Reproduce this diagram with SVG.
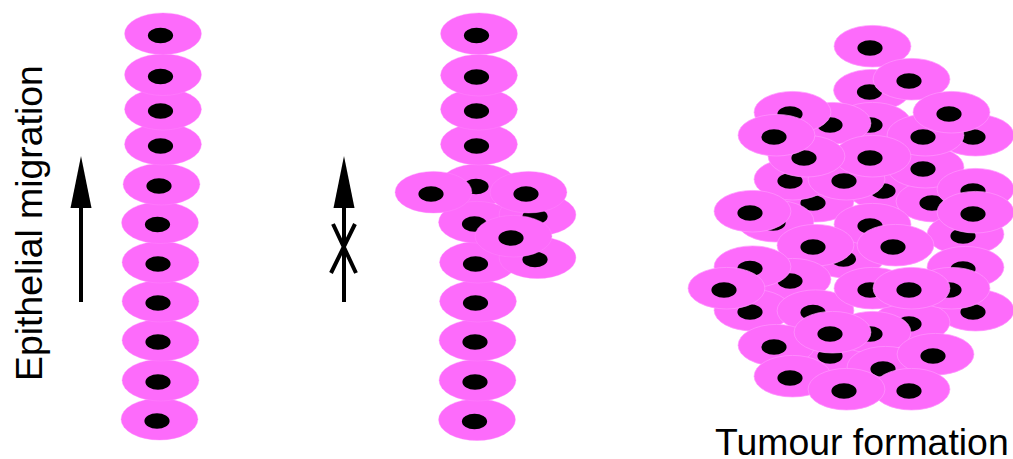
<svg xmlns="http://www.w3.org/2000/svg" width="1013" height="459" viewBox="0 0 1013 459">
<style>
.body{fill:#fd6bfb}
.nuc{fill:#000;stroke:none}
#left-column,#middle-column{stroke:#fe8cfc;stroke-width:0.4}
#tumour{stroke:#ff96fd;stroke-width:0.7}
.shaft{stroke:#000;stroke-width:4;fill:none}
.head{fill:#000}
text{font-family:"Liberation Sans",Arial,sans-serif;font-size:37.4px;fill:#000}
</style>
<defs>
<g id="cell"><ellipse class="body" cx="2.500" cy="-1.800" rx="38.400" ry="20.800"/><ellipse class="nuc" cx="0" cy="0" rx="12.600" ry="7.800"/></g>
</defs>
<rect width="1013" height="459" fill="#fff"/>

<!-- normal epithelium -->
<g id="left-column">
<g id="l11"><use href="#cell" x="157" y="421"/></g>
<g id="l10"><use href="#cell" x="158" y="382"/></g>
<g id="l9"><use href="#cell" x="158" y="342"/></g>
<g id="l8"><use href="#cell" x="158" y="303"/></g>
<g id="l7"><use href="#cell" x="158" y="264"/></g>
<g id="l6"><use href="#cell" x="157.500" y="224.500"/></g>
<g id="l5"><use href="#cell" x="159" y="186"/></g>
<g id="l4"><use href="#cell" x="160.500" y="146"/></g>
<g id="l3"><use href="#cell" x="160.500" y="111"/></g>
<g id="l2"><use href="#cell" x="160.500" y="76.500"/></g>
<g id="l1"><use href="#cell" x="160.500" y="35.500"/></g>
</g>

<!-- epithelium with a budding clump -->
<g id="middle-column">
<g id="m11"><use href="#cell" x="474.500" y="421.500"/></g>
<g id="m10"><use href="#cell" x="475" y="382"/></g>
<g id="m9"><use href="#cell" x="475" y="342"/></g>
<g id="m8"><use href="#cell" x="475.500" y="303"/></g>
<g id="m7"><use href="#cell" x="475.500" y="264"/></g>
<g id="m5"><use href="#cell" x="476" y="186.500"/></g>
<g id="m6"><use href="#cell" x="474.500" y="224"/></g>
<g id="m4"><use href="#cell" x="476.500" y="146"/></g>
<g id="m3"><use href="#cell" x="476.500" y="111"/></g>
<g id="m2"><use href="#cell" x="476.500" y="77"/></g>
<g id="m1"><use href="#cell" x="476.500" y="35.500"/></g>
<g id="c1"><use href="#cell" x="535" y="259.500"/></g>
<g id="c2"><use href="#cell" x="535" y="216.500"/></g>
<g id="c3"><use href="#cell" x="511" y="238"/></g>
<g id="c4"><use href="#cell" x="431" y="194"/></g>
<g id="c5"><use href="#cell" x="526" y="194"/></g>
</g>

<!-- tumour mass, back to front -->
<g id="tumour">
<g id="t1"><use href="#cell" x="870" y="48"/></g>
<g id="t2"><use href="#cell" x="869.500" y="92"/></g>
<g id="t3"><use href="#cell" x="909" y="81"/></g>
<g id="t7"><use href="#cell" x="870" y="125"/></g>
<g id="t5"><use href="#cell" x="830" y="125"/></g>
<g id="t4"><use href="#cell" x="790" y="114"/></g>
<g id="t9"><use href="#cell" x="973" y="137"/></g>
<g id="t16"><use href="#cell" x="883" y="191"/></g>
<g id="t17"><use href="#cell" x="813" y="203"/></g>
<g id="t21"><use href="#cell" x="932" y="203"/></g>
<g id="t13"><use href="#cell" x="923" y="169"/></g>
<g id="t10"><use href="#cell" x="923" y="137"/></g>
<g id="t8"><use href="#cell" x="949" y="114"/></g>
<g id="t14"><use href="#cell" x="790" y="181"/></g>
<g id="t15"><use href="#cell" x="844" y="181"/></g>
<g id="t12"><use href="#cell" x="870" y="158"/></g>
<g id="t11"><use href="#cell" x="804" y="158"/></g>
<g id="t6"><use href="#cell" x="774" y="137"/></g>
<g id="t19"><use href="#cell" x="973" y="191"/></g>
<g id="t26"><use href="#cell" x="963" y="236"/></g>
<g id="t20"><use href="#cell" x="973" y="214"/></g>
<g id="t22"><use href="#cell" x="773" y="223"/></g>
<g id="t18"><use href="#cell" x="750" y="213"/></g>
<g id="t27"><use href="#cell" x="843.500" y="259"/></g>
<g id="t23"><use href="#cell" x="870" y="226"/></g>
<g id="t24"><use href="#cell" x="813" y="247"/></g>
<g id="t25"><use href="#cell" x="893" y="247"/></g>
<g id="t29"><use href="#cell" x="790" y="281"/></g>
<g id="t28"><use href="#cell" x="750" y="268.500"/></g>
<g id="t35"><use href="#cell" x="750" y="312"/></g>
<g id="t30"><use href="#cell" x="724" y="290"/></g>
<g id="t36"><use href="#cell" x="813" y="312.500"/></g>
<g id="t31"><use href="#cell" x="963" y="269"/></g>
<g id="t37"><use href="#cell" x="973" y="312"/></g>
<g id="t38"><use href="#cell" x="909" y="324"/></g>
<g id="t32"><use href="#cell" x="870" y="290"/></g>
<g id="t34"><use href="#cell" x="949" y="290"/></g>
<g id="t33"><use href="#cell" x="909" y="290"/></g>
<g id="t42"><use href="#cell" x="830" y="356"/></g>
<g id="t40"><use href="#cell" x="870" y="334"/></g>
<g id="t41"><use href="#cell" x="774" y="347"/></g>
<g id="t39"><use href="#cell" x="830" y="334"/></g>
<g id="t44"><use href="#cell" x="883" y="369"/></g>
<g id="t43"><use href="#cell" x="933" y="356"/></g>
<g id="t45"><use href="#cell" x="790" y="378"/></g>
<g id="t47"><use href="#cell" x="909" y="391"/></g>
<g id="t46"><use href="#cell" x="844" y="391"/></g>
</g>

<!-- migration arrows -->
<g id="connectors">
<g id="arrow-migrating">
<path class="shaft" d="M81 302V205"/>
<path class="head" d="M81 156L91.500 208H70.500Z"/>
</g>
<g id="arrow-blocked">
<path class="shaft" d="M344 302V205"/>
<path class="head" d="M344 156L354.500 208H333.500Z"/>
<path class="shaft" d="M333 224L356 273M355 224L331 273"/>
</g>
</g>

<text id="label-migration" transform="translate(41.500 381) rotate(-90)">Epithelial migration</text>
<text id="label-tumour" x="715" y="455">Tumour formation</text>
</svg>
